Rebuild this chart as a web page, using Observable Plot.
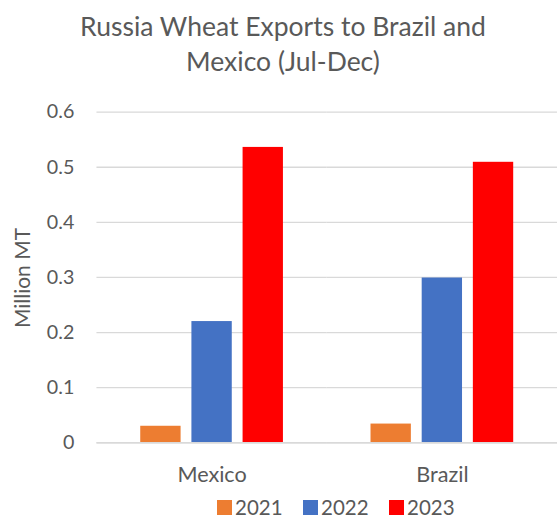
<!DOCTYPE html>
<html>
<head>
<meta charset="utf-8">
<script src="https://cdn.jsdelivr.net/npm/d3@7"></script>
<script src="https://cdn.jsdelivr.net/npm/@observablehq/plot@0.6"></script>
<style>
  html, body { margin: 0; padding: 0; background: #fff; overflow: hidden; }
  #wrap { position: relative; width: 557px; height: 520px; overflow: hidden; font-family: Lato, "Open Sans", sans-serif; color: #595959; }
  #title { position: absolute; left: 0; top: 9px; width: 566px; text-align: center; font-size: 26.5px; line-height: 35px; }
  #chart { position: absolute; left: 0; top: 90px; }
  #ylabel { position: absolute; left: 21px; top: 278px; transform: translate(-50%, -50%) rotate(-90deg); font-size: 21px; white-space: nowrap; }
  #legend { position: absolute; left: 217px; top: 497px; height: 20px; display: flex; align-items: center; font-size: 20.5px; line-height: 20px; }
  .sw { display: inline-block; width: 15px; height: 15px; margin-right: 3px; }
  .item { display: flex; align-items: center; width: 86px; }
</style>
</head>
<body>
<div id="wrap">
  <div id="title">Russia Wheat Exports to Brazil and<br>Mexico (Jul-Dec)</div>
  <div id="chart"></div>
  <div id="ylabel">Million MT</div>
  <div id="legend"></div>
</div>
<script>
const countries = ["Mexico", "Brazil"];
const years = ["2021", "2022", "2023"];
const colors = ["#ED7D31", "#4472C4", "#FF0000"];
const mexico = [0.03, 0.22, 0.536];
const brazil = [0.034, 0.299, 0.509];
const yTicks = [0, 0.1, 0.2, 0.3, 0.4, 0.5, 0.6];

const seriesByCountry = { Mexico: mexico, Brazil: brazil };
const data = [];
for (const c of countries) {
  years.forEach((y, i) => data.push({ country: c, year: y, value: seriesByCountry[c][i] }));
}

const plot = Plot.plot({
  width: 566,
  height: 411,
  marginLeft: 97.5,
  marginRight: 0,
  marginTop: 22,
  marginBottom: 53,
  style: { fontFamily: "Lato, 'Open Sans', sans-serif", fontSize: "20px", color: "#595959", background: "transparent" },
  fx: { domain: countries, padding: 0, label: null },
  x: { domain: years, paddingInner: 0.21, paddingOuter: 0.855, axis: null },
  y: { domain: [0, 0.6], label: null },
  color: { domain: years, range: colors },
  marks: [
    Plot.ruleY(yTicks, { stroke: "#d9d9d9", strokeWidth: 1.3 }),
    Plot.barY(data, { fx: "country", x: "year", y: "value", fill: "year" }),
    Plot.ruleY([0], { stroke: "#d9d9d9", strokeWidth: 1.5 }),
    Plot.axisY(yTicks, { tickSize: 0, tickPadding: 23, fontSize: 20, label: null, tickFormat: d => d === 0 ? "0" : String(d) }),
    Plot.axisFx({ anchor: "bottom", tickSize: 0, tickPadding: 24, fontSize: 22, label: null })
  ]
});
document.getElementById("chart").appendChild(plot);

const legend = document.getElementById("legend");
years.forEach((y, i) => {
  const item = document.createElement("div");
  item.className = "item";
  const sw = document.createElement("span");
  sw.className = "sw";
  sw.style.background = colors[i];
  item.appendChild(sw);
  const t = document.createElement("span");
  t.textContent = y;
  item.appendChild(t);
  legend.appendChild(item);
});
</script>
</body>
</html>
